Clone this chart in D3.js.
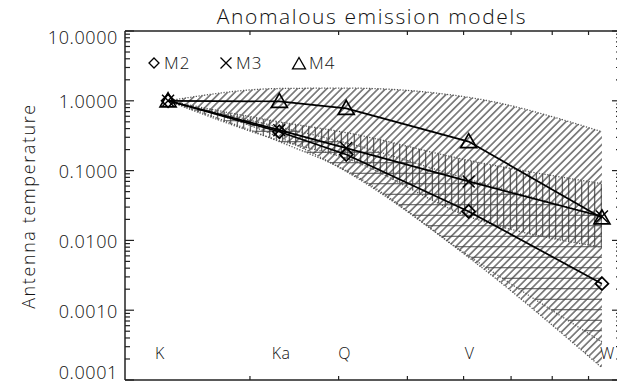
<!DOCTYPE html>
<html>
<head>
<meta charset="utf-8">
<script src="https://cdn.jsdelivr.net/npm/d3@7"></script>
<style>
  html, body { margin: 0; padding: 0; background: #fff; }
  svg text { font-family: "Open Sans", "DejaVu Sans", sans-serif; font-weight: 300; fill: #111; }
</style>
</head>
<body>
<svg id="chart" width="617" height="386"></svg>
<script>
// ---------------- data ----------------
const bandNames = ["K", "Ka", "Q", "V", "W"];
const bandFreqs = [23, 33, 41, 61, 94];            // GHz
const labelFreqs = [22.4, 33.2, 40.8, 61.2, 95.7]; // where band names sit
const m2 = [1.0, 0.36, 0.17, 0.026, 0.0024];
const m3 = [1.0, 0.38, 0.21, 0.07, 0.022];
const m4 = [1.0, 0.98, 0.78, 0.26, 0.021];
// shaded ranges (upper / lower) at the band frequencies
const rangeSlashUpper = [1.0, 1.5, 1.52, 1.12, 0.36];
const rangeSlashLower = [1.0, 0.3, 0.097, 0.0057, 0.00015];
const rangeVertUpper  = [1.0, 0.5, 0.35, 0.14, 0.065];
const rangeVertLower  = [1.0, 0.27, 0.15, 0.022, 0.008];
const rangeHorzUpper  = [1.0, 0.42, 0.25, 0.075, 0.022];
const rangeHorzLower  = [1.0, 0.26, 0.1, 0.006, 0.00035];
const yTickValues = [0.0001, 0.001, 0.01, 0.1, 1, 10];
const yTickLabels = ["0.0001", "0.0010", "0.0100", "0.1000", "1.0000", "10.0000"];
const xTickValues = [30, 40, 50, 60, 70, 80, 90];
const legendItems = ["M2", "M3", "M4"];

// ---------------- layout ----------------
const svg = d3.select("#chart");
const L = 125, R = 621, T = 31, B = 380;
const x = d3.scaleLog().domain([20, 100]).range([L, R]);
const y = d3.scaleLog().domain([0.0001, 10]).range([B, T]);

const defs = svg.append("defs");
defs.append("clipPath").attr("id", "plotclip")
  .append("rect").attr("x", L).attr("y", T).attr("width", R - L).attr("height", B - T);

function hatch(id, size, angle, color, w) {
  const p = defs.append("pattern").attr("id", id)
    .attr("patternUnits", "userSpaceOnUse")
    .attr("width", size).attr("height", size)
    .attr("patternTransform", `rotate(${angle})`);
  p.append("line").attr("x1", size / 2).attr("y1", 0).attr("x2", size / 2).attr("y2", size)
    .attr("stroke", color).attr("stroke-width", w);
}
hatch("hSlash", 5.2, 45, "#000", 0.9);
hatch("hVert", 6.5, 0, "#333", 1);
hatch("hHorz", 10.5, 90, "#444", 1);

const g = svg.append("g").attr("clip-path", "url(#plotclip)");

function areaOf(up, lo) {
  return d3.area()
    .x((d, i) => x(bandFreqs[i]))
    .y0((d, i) => y(lo[i]))
    .y1((d, i) => y(up[i]))
    .curve(d3.curveMonotoneX)(up);
}
function lineOf(vals, curve) {
  return d3.line().x((d, i) => x(bandFreqs[i])).y(d => y(d)).curve(curve)(vals);
}

const ranges = [
  [rangeSlashUpper, rangeSlashLower, "hSlash"],
  [rangeVertUpper, rangeVertLower, "hVert"],
  [rangeHorzUpper, rangeHorzLower, "hHorz"]
];
ranges.forEach(([u, l, id]) => {
  g.append("path").attr("d", areaOf(u, l)).attr("fill", `url(#${id})`).attr("stroke", "none");
});
ranges.forEach(([u, l]) => {
  [u, l].forEach(v => {
    g.append("path").attr("d", lineOf(v, d3.curveMonotoneX))
      .attr("fill", "none").attr("stroke", "#555").attr("stroke-width", 1.3)
      .attr("stroke-dasharray", "1.2,1.6");
  });
});

// model lines
[m2, m3, m4].forEach(v => {
  g.append("path").attr("d", lineOf(v, d3.curveLinear))
    .attr("fill", "none").attr("stroke", "#000").attr("stroke-width", 1.7);
});

// markers
function diamond(sel, cx, cy, r, w) {
  sel.append("path").attr("d", `M${cx},${cy - r}L${cx + r},${cy}L${cx},${cy + r}L${cx - r},${cy}Z`)
    .attr("fill", "none").attr("stroke", "#000").attr("stroke-width", w);
}
function cross(sel, cx, cy, r, w) {
  sel.append("path").attr("d", `M${cx - r},${cy - r}L${cx + r},${cy + r}M${cx - r},${cy + r}L${cx + r},${cy - r}`)
    .attr("fill", "none").attr("stroke", "#000").attr("stroke-width", w);
}
function triangle(sel, cx, cy, r, w) {
  sel.append("path").attr("d", `M${cx},${cy - r}L${cx + r},${cy + r * 0.75}L${cx - r},${cy + r * 0.75}Z`)
    .attr("fill", "none").attr("stroke", "#000").attr("stroke-width", w);
}
const mk = svg.append("g");
m2.forEach((v, i) => diamond(mk, x(bandFreqs[i]), y(v), 6.5, 1.7));
m3.forEach((v, i) => cross(mk, x(bandFreqs[i]), y(v), 6, 1.4));
m4.forEach((v, i) => triangle(mk, x(bandFreqs[i]), y(v), 8, 1.7));

// ---------------- axes ----------------
const ax = svg.append("g").attr("stroke", "#222").attr("stroke-width", 1.5);
ax.append("line").attr("x1", L).attr("x2", L).attr("y1", T).attr("y2", B);
ax.append("line").attr("x1", R).attr("x2", R).attr("y1", T).attr("y2", B);
ax.append("line").attr("x1", L).attr("x2", R).attr("y1", T).attr("y2", T);
ax.append("line").attr("x1", L).attr("x2", R).attr("y1", B).attr("y2", B);

const minorY = [];
for (let e = -4; e < 1; e++) for (let k = 2; k <= 9; k++) minorY.push(k * Math.pow(10, e));
const tk = svg.append("g").attr("stroke", "#222").attr("stroke-width", 1.2);
yTickValues.forEach(v => {
  tk.append("line").attr("x1", L).attr("x2", L + 9).attr("y1", y(v)).attr("y2", y(v));
  tk.append("line").attr("x1", R).attr("x2", R - 9).attr("y1", y(v)).attr("y2", y(v));
});
minorY.forEach(v => {
  tk.append("line").attr("x1", L).attr("x2", L + 5).attr("y1", y(v)).attr("y2", y(v));
  tk.append("line").attr("x1", R).attr("x2", R - 5).attr("y1", y(v)).attr("y2", y(v));
});
xTickValues.forEach(v => {
  tk.append("line").attr("x1", x(v)).attr("x2", x(v)).attr("y1", B).attr("y2", B - 4);
  tk.append("line").attr("x1", x(v)).attr("x2", x(v)).attr("y1", T).attr("y2", T + 4);
});

// y tick labels
yTickValues.forEach((v, i) => {
  const cy = Math.max(T + 7, Math.min(B - 7, y(v) + 1));
  svg.append("text").attr("x", 118).attr("y", cy).attr("dy", "0.36em")
    .attr("text-anchor", "end").attr("font-size", 18).attr("letter-spacing", 0.6)
    .text(yTickLabels[i]);
});

// y axis title
svg.append("text").attr("transform", "translate(35,206) rotate(-90)")
  .attr("text-anchor", "middle").attr("font-size", 18).attr("letter-spacing", 1.6)
  .text("Antenna temperature");

// title
svg.append("text").attr("x", 372).attr("y", 24).attr("text-anchor", "middle")
  .attr("font-size", 21).attr("letter-spacing", 1.6)
  .text("Anomalous emission models");

// band labels
bandNames.forEach((n, i) => {
  svg.append("text").attr("x", x(labelFreqs[i])).attr("y", 359)
    .attr("text-anchor", "middle").attr("font-size", 16).attr("letter-spacing", 0.5).text(n);
});

// legend
const legX = [154, 226, 299];
const lg = svg.append("g");
diamond(lg, legX[0], 63, 5, 1.3);
cross(lg, legX[1], 63, 5.5, 1.3);
triangle(lg, legX[2], 64, 6.5, 1.3);
legendItems.forEach((t, i) => {
  lg.append("text").attr("x", legX[i] + 10).attr("y", 69).attr("font-size", 17)
    .attr("letter-spacing", 1).text(t);
});
</script>
</body>
</html>
